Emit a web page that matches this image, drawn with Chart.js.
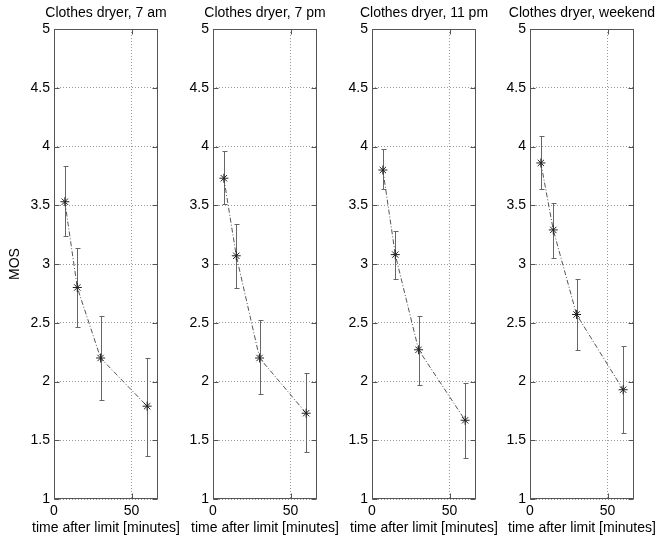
<!DOCTYPE html>
<html><head><meta charset="utf-8">
<script src="https://cdn.jsdelivr.net/npm/chart.js@4/dist/chart.umd.min.js"></script>
<style>
html,body{margin:0;padding:0;background:#fff;overflow:hidden;width:655px;height:538px;}
.wrap{position:absolute;top:0;width:212px;height:538px;}
canvas{display:block;}
</style></head><body>
<div class="wrap" style="left:0px"><canvas id="c0" width="212" height="538"></canvas></div>
<div class="wrap" style="left:159px"><canvas id="c1" width="212" height="538"></canvas></div>
<div class="wrap" style="left:318px"><canvas id="c2" width="212" height="538"></canvas></div>
<div class="wrap" style="left:476px"><canvas id="c3" width="212" height="538"></canvas></div>
<script>
// ---- data ----
const xMinutes = [7, 15, 30, 60];
const xTicks = [0, 50];
const yTicks = [1, 1.5, 2, 2.5, 3, 3.5, 4, 4.5, 5];
const titles = ["Clothes dryer, 7 am", "Clothes dryer, 7 pm", "Clothes dryer, 11 pm", "Clothes dryer, weekend"];
const xLabel = "time after limit [minutes]";
const yLabel = "MOS";

const mos7am = [3.53, 2.80, 2.20, 1.79];
const lo7am  = [3.24, 2.46, 1.84, 1.37];
const hi7am  = [3.83, 3.14, 2.56, 2.20];

const mos7pm = [3.73, 3.07, 2.20, 1.73];
const lo7pm  = [3.51, 2.80, 1.89, 1.40];
const hi7pm  = [3.96, 3.34, 2.52, 2.07];

const mos11pm = [3.80, 3.08, 2.27, 1.67];
const lo11pm  = [3.64, 2.87, 1.97, 1.35];
const hi11pm  = [3.98, 3.28, 2.56, 1.99];

const mosWeekend = [3.86, 3.29, 2.57, 1.93];
const loWeekend  = [3.64, 3.05, 2.27, 1.56];
const hiWeekend  = [4.09, 3.52, 2.87, 2.30];

// ---- rendering ----
const FONT = "'Liberation Sans', Arial, Helvetica, sans-serif";
const FS = 14;

function makePlugin(mos, lo, hi) {
  return {
    id: 'matlabLook',
    beforeDatasetsDraw(chart) {
      const {ctx, scales: {x, y}} = chart;
      ctx.save();
      ctx.strokeStyle = '#666';
      ctx.lineWidth = 1;
      xMinutes.forEach((xv, i) => {
        const px = Math.round(x.getPixelForValue(xv)) + 0.5;
        const pl = Math.round(y.getPixelForValue(lo[i])) + 0.5;
        const ph = Math.round(y.getPixelForValue(hi[i])) + 0.5;
        ctx.beginPath();
        ctx.moveTo(px, pl); ctx.lineTo(px, ph);
        ctx.moveTo(px - 2, pl); ctx.lineTo(px + 3, pl);
        ctx.moveTo(px - 2, ph); ctx.lineTo(px + 3, ph);
        ctx.stroke();
      });
      ctx.restore();
    },
    afterDraw(chart) {
      const {ctx, chartArea: a, scales: {x, y}} = chart;
      const L = Math.round(a.left) + 0.5, R = Math.round(a.right) - 0.5;
      const T = Math.round(a.top) + 0.5, B = Math.round(a.bottom) - 0.5;
      ctx.save();
      ctx.strokeStyle = '#555';
      ctx.lineWidth = 1;
      ctx.setLineDash([]);
      ctx.strokeRect(L, T, R - L, B - T);
      const tl = 5;
      ctx.beginPath();
      yTicks.forEach(v => {
        const py = Math.round(y.getPixelForValue(v)) + 0.5;
        ctx.moveTo(L, py); ctx.lineTo(L + tl, py);
        ctx.moveTo(R, py); ctx.lineTo(R - tl, py);
      });
      xTicks.forEach(v => {
        const px = Math.round(x.getPixelForValue(v)) + 0.5;
        ctx.moveTo(px, B); ctx.lineTo(px, B - tl);
        ctx.moveTo(px, T); ctx.lineTo(px, T + tl);
      });
      ctx.stroke();
      ctx.restore();
    }
  };
}

function makeChart(id, title, mos, lo, hi, showY) {
  const font = {family: FONT, size: FS, weight: 'normal', lineHeight: 1.2};
  return new Chart(document.getElementById(id), {
    type: 'line',
    data: {
      datasets: [{
        data: xMinutes.map((xv, i) => ({x: xv, y: mos[i]})),
        borderColor: '#555',
        borderWidth: 1,
        borderDash: [5, 2, 1, 2],
        pointStyle: 'star',
        pointRadius: 4.5,
        pointBorderColor: '#222',
        pointBackgroundColor: '#222',
        pointBorderWidth: 1,
        fill: false,
        tension: 0
      }]
    },
    options: {
      responsive: false,
      animation: false,
      devicePixelRatio: 1,
      layout: {padding: 0},
      plugins: {
        legend: {display: false},
        tooltip: {enabled: false},
        title: {display: true, text: title, color: '#000', font: font, padding: {top: 5, bottom: 7.2}},
        subtitle: {display: true, position: 'bottom', text: xLabel, color: '#000', font: font, padding: {top: 0, bottom: 1.5}}
      },
      scales: {
        x: {
          type: 'linear', min: 0, max: 67,
          afterBuildTicks: s => { s.ticks = xTicks.map(v => ({value: v})); },
          afterFit: s => { s.height = 20.7; },
          ticks: {color: '#000', font: font, padding: 3.9, maxRotation: 0, autoSkip: false, callback: v => String(v)},
          grid: {color: '#999', drawTicks: false, lineWidth: 1},
          border: {display: false, dash: [1, 2]}
        },
        y: {
          type: 'linear', position: 'left', min: 1, max: 5,
          afterBuildTicks: s => { s.ticks = yTicks.map(v => ({value: v})); },
          afterFit: s => { s.width = 54; },
          ticks: {color: '#000', font: font, padding: 4, autoSkip: false, callback: v => String(v)},
          grid: {color: '#999', drawTicks: false, lineWidth: 1},
          border: {display: false, dash: [1, 2]},
          title: {display: showY, text: yLabel, color: '#000', font: font, padding: {top: 7, bottom: 0}}
        },
        ySpacer: {
          type: 'linear', position: 'right', min: 1, max: 5,
          afterFit: s => { s.width = 54; },
          ticks: {display: false},
          grid: {display: false, drawOnChartArea: false},
          border: {display: false}
        }
      }
    },
    plugins: [makePlugin(mos, lo, hi)]
  });
}

makeChart('c0', titles[0], mos7am, lo7am, hi7am, true);
makeChart('c1', titles[1], mos7pm, lo7pm, hi7pm, false);
makeChart('c2', titles[2], mos11pm, lo11pm, hi11pm, false);
makeChart('c3', titles[3], mosWeekend, loWeekend, hiWeekend, false);
</script>
</body></html>
